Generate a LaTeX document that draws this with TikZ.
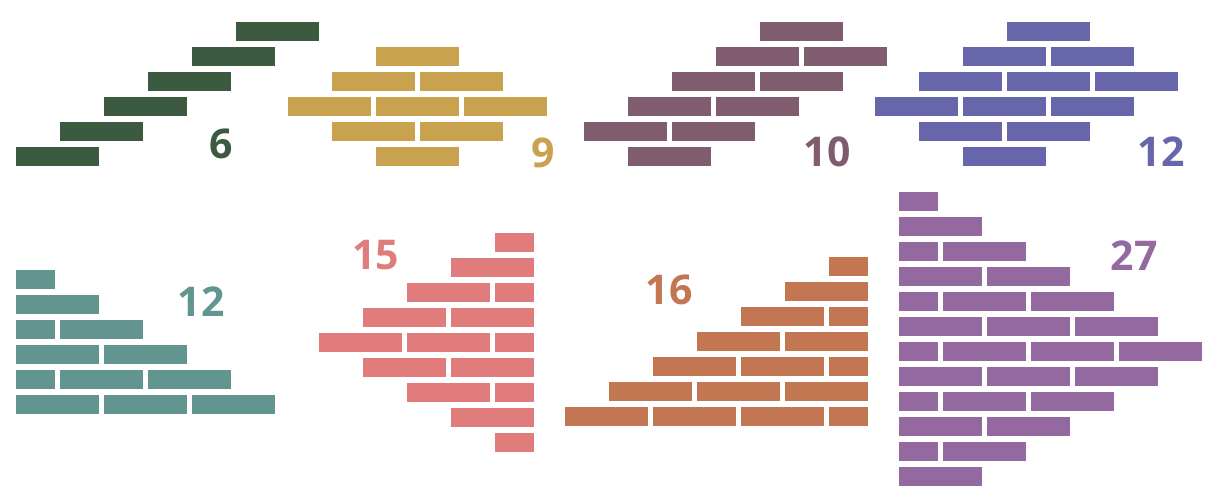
\documentclass[tikz,border=0pt]{standalone}
\usepackage{fontspec}
\setmainfont{Open Sans}
\definecolor{cgreen}{HTML}{3C5A40}
\definecolor{cgold}{HTML}{C9A24F}
\definecolor{cmauve}{HTML}{7F5D6F}
\definecolor{cblue}{HTML}{6866AB}
\definecolor{cteal}{HTML}{629590}
\definecolor{csalmon}{HTML}{E07C7B}
\definecolor{corange}{HTML}{C37652}
\definecolor{cpurple}{HTML}{9369A0}
\tikzset{
  lbl/.style={inner sep=0pt, font=\bfseries\fontsize{41}{41}\selectfont, anchor=center},
}
\begin{document}
\begin{tikzpicture}[x=1pt,y=-1pt]
\useasboundingbox (0,0) rectangle (1223,498);
% group 1: green, 6
\foreach \x/\y/\w in {236/22/83,192/47/83,148/72/83,104/97/83,60/122/83,16/147/83}
  \fill[cgreen] (\x,\y) rectangle ++(\w,19);
\node[lbl,text=cgreen] (n6) at (221,143.5) {6};
% group 2: gold, 9
\foreach \x/\y/\w in {376/47/83,332/72/83,420/72/83,288/97/83,376/97/83,464/97/83,332/122/83,420/122/83,376/147/83}
  \fill[cgold] (\x,\y) rectangle ++(\w,19);
\node[lbl,text=cgold] (n9) at (543,152.5) {9};
% group 3: mauve, 10
\foreach \x/\y/\w in {760/22/83,716/47/83,804/47/83,672/72/83,760/72/83,628/97/83,716/97/83,584/122/83,672/122/83,628/147/83}
  \fill[cmauve] (\x,\y) rectangle ++(\w,19);
\node[lbl,text=cmauve] (n10) at (827,152) {10};
% group 4: blue, 12
\foreach \x/\y/\w in {1007/22/83,963/47/83,1051/47/83,919/72/83,1007/72/83,1095/72/83,875/97/83,963/97/83,1051/97/83,919/122/83,1007/122/83,963/147/83}
  \fill[cblue] (\x,\y) rectangle ++(\w,19);
\node[lbl,text=cblue] (n12a) at (1161,152) {12};
% group 5: teal, 12
\foreach \x/\y/\w in {16/270/39,16/295/83,16/320/39,60/320/83,16/345/83,104/345/83,16/370/39,60/370/83,148/370/83,16/395/83,104/395/83,192/395/83}
  \fill[cteal] (\x,\y) rectangle ++(\w,19);
\node[lbl,text=cteal] (n12b) at (201,301.5) {12};
% group 6: salmon, 15
\foreach \x/\y/\w in {495/233/39,451/258/83,407/283/83,495/283/39,363/308/83,451/308/83,319/333/83,407/333/83,495/333/39,363/358/83,451/358/83,407/383/83,495/383/39,451/408/83,495/433/39}
  \fill[csalmon] (\x,\y) rectangle ++(\w,19);
\node[lbl,text=csalmon] (n15) at (375.5,255.5) {15};
% group 7: orange, 16
\foreach \x/\y/\w in {829/257/39,785/282/83,741/307/83,829/307/39,697/332/83,785/332/83,653/357/83,741/357/83,829/357/39,609/382/83,697/382/83,785/382/83,565/407/83,653/407/83,741/407/83,829/407/39}
  \fill[corange] (\x,\y) rectangle ++(\w,19);
\node[lbl,text=corange] (n16) at (669,289.5) {16};
% group 8: purple, 27
\foreach \x/\y/\w in {899/192/39,
  899/217/83,
  899/242/39,943/242/83,
  899/267/83,987/267/83,
  899/292/39,943/292/83,1031/292/83,
  899/317/83,987/317/83,1075/317/83,
  899/342/39,943/342/83,1031/342/83,1119/342/83,
  899/367/83,987/367/83,1075/367/83,
  899/392/39,943/392/83,1031/392/83,
  899/417/83,987/417/83,
  899/442/39,943/442/83,
  899/467/83}
  \fill[cpurple] (\x,\y) rectangle ++(\w,19);
\node[lbl,text=cpurple] (n27) at (1134,255.5) {27};
\end{tikzpicture}
\end{document}
